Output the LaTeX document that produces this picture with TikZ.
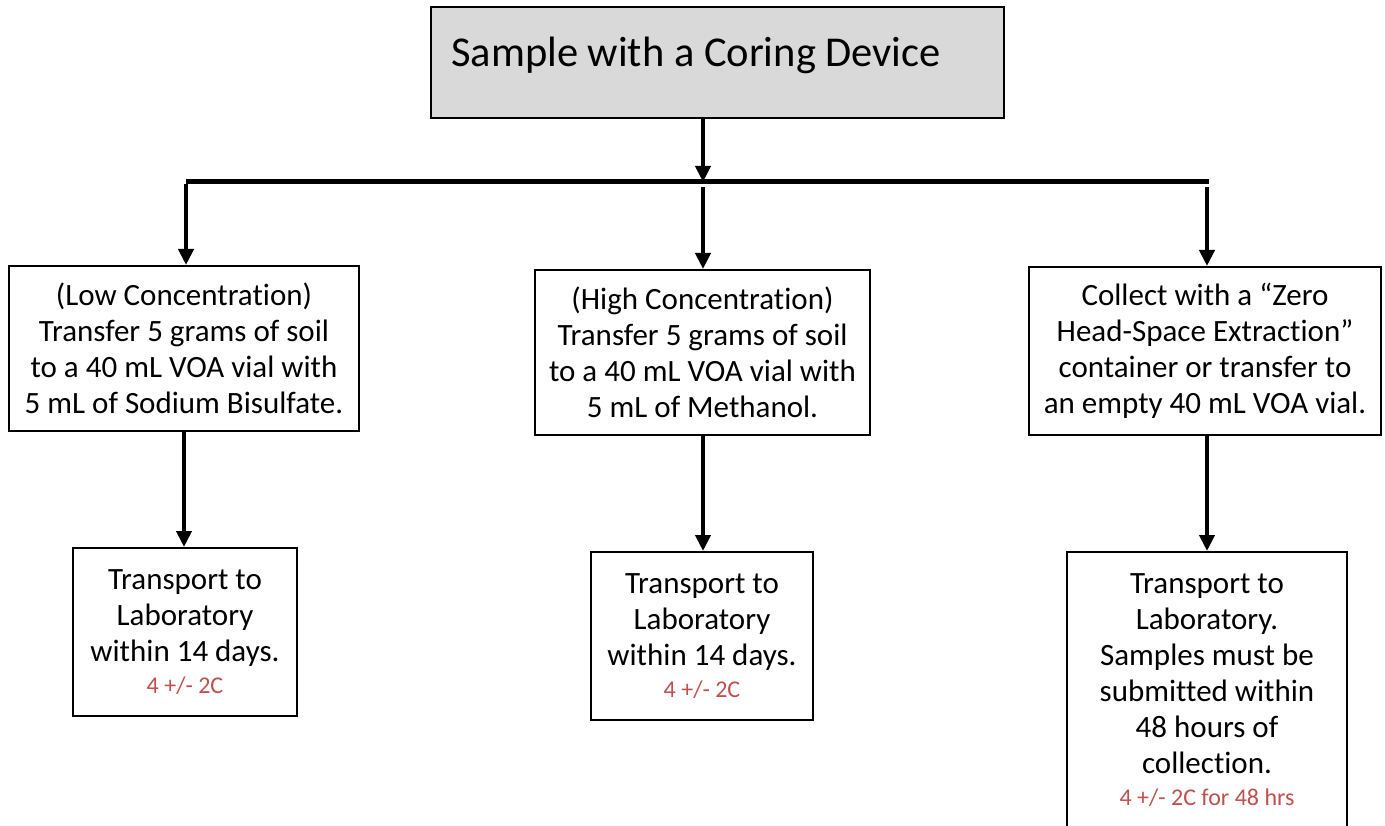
\documentclass[tikz,border=0pt]{standalone}
\usepackage{fontspec}
\setmainfont{Carlito}[Ligatures=NoCommon]
\usetikzlibrary{arrows.meta}
\definecolor{redtxt}{HTML}{C0504D}
\definecolor{topgray}{HTML}{D9D9D9}
\newcommand{\redsz}{\fontsize{24}{28}\selectfont\color{redtxt}}
\begin{document}
\begin{tikzpicture}[x=1pt,y=-1pt,
  box/.style={draw=black,line width=2pt,fill=white,align=center,inner sep=0pt,
    font=\fontsize{31}{36}\selectfont},
  arr/.style={line width=4pt,-{Triangle[length=16pt,width=15pt]}}]
\useasboundingbox (0,0) rectangle (1385,826);
\clip (0,0) rectangle (1385,826);
% top box
\node[draw=black,line width=2pt,fill=topgray,minimum width=573pt,minimum height=111pt,inner sep=0pt] (top) at (717.5,62.5) {};
\node[anchor=base west,inner sep=0pt,font=\fontsize{42.5}{46}\selectfont] (toptxt) at (451,67) {Sample with a Coring Device};
% level 2 boxes
\node[box,minimum width=350pt,minimum height=165pt] (b1) at (184,348.5) {(Low Concentration)\\Transfer 5 grams of soil\\to a 40 mL VOA vial with\\5 mL of Sodium Bisulfate.};
\node[box,minimum width=335pt,minimum height=165pt] (b2) at (702.5,352.5) {(High Concentration)\\Transfer 5 grams of soil\\to a 40 mL VOA vial with\\5 mL of Methanol.};
\node[box,minimum width=352pt,minimum height=168pt] (b3) at (1205,351) {Collect with a “Zero\\Head-Space Extraction”\\container or transfer to\\an empty 40 mL VOA vial.};
% level 3 boxes
\node[box,minimum width=224pt,minimum height=168pt] (b4) at (185,632) {Transport to\\Laboratory\\within 14 days.\\[-4pt]{\redsz 4 +/- 2C}};
\node[box,minimum width=222pt,minimum height=168pt] (b5) at (702,636) {Transport to\\Laboratory\\within 14 days.\\[-4pt]{\redsz 4 +/- 2C}};
\node[box,minimum width=280pt,minimum height=276pt] (b6) at (1207,690) {Transport to\\Laboratory.\\Samples must be\\submitted within\\48 hours of\\collection.\\[-4pt]{\redsz 4 +/- 2C for 48 hrs}};
% connectors
\coordinate (barL) at (186,182);
\coordinate (barR) at (1209,182);
\coordinate (barM) at (703,182);
\draw[line width=5pt] (barL) -- (barR);
\draw[arr] (703,118) -- (barM);
\draw[arr] ([yshift=-2pt]barL) -- (b1.north -| barL);
\draw[arr] (703,187) -- (b2.north -| barM);
\draw[arr] (1207,187) -- (b3.north -| 1207,0);
\draw[arr] (b1.south -| 184,0) -- (b4.north -| 184,0);
\draw[arr] (b2.south -| 703,0) -- (b5.north -| 703,0);
\draw[arr] (b3.south -| 1207,0) -- (b6.north -| 1207,0);
\end{tikzpicture}
\end{document}
